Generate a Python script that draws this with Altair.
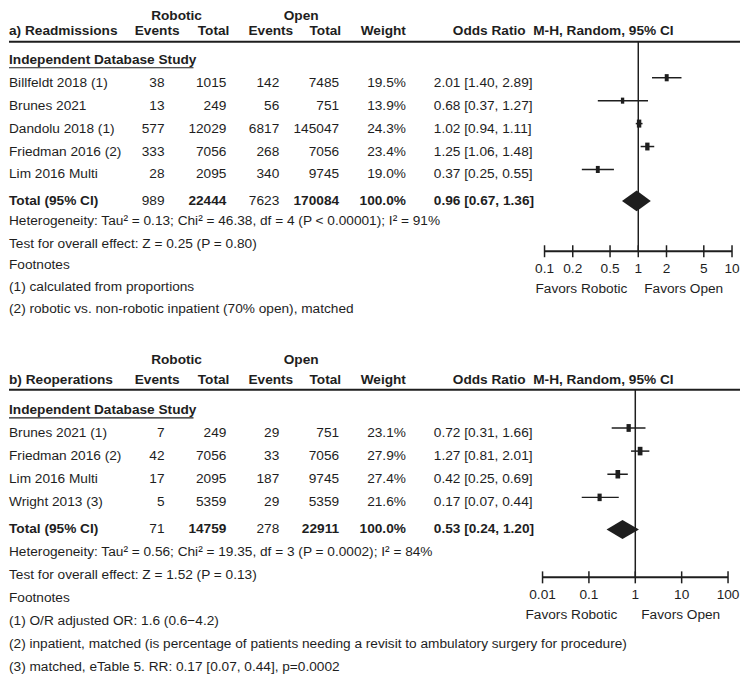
import altair as alt
import pandas as pd

FONT = "Liberation Sans, Arial, sans-serif"
FS = 13.7
INK = "#1e1e1e"
W = 733
SQUARE = "M-0.55,-1L0.55,-1L0.55,1L-0.55,1Z"

# ---------------- data: a) Readmissions ----------------
names_a = ["Billfeldt 2018 (1)", "Brunes 2021", "Dandolu 2018 (1)", "Friedman 2016 (2)", "Lim 2016 Multi"]
rob_ev_a = [38, 13, 577, 333, 28]
rob_tot_a = [1015, 249, 12029, 7056, 2095]
open_ev_a = [142, 56, 6817, 268, 340]
open_tot_a = [7485, 751, 145047, 7056, 9745]
weight_a = [19.5, 13.9, 24.3, 23.4, 19.0]
or_a = [2.01, 0.68, 1.02, 1.25, 0.37]
lo_a = [1.40, 0.37, 0.94, 1.06, 0.25]
hi_a = [2.89, 1.27, 1.11, 1.48, 0.55]
total_a = [989, 22444, 7623, 170084, 100.0, 0.96, 0.67, 1.36]
het_a = "Heterogeneity: Tau\u00b2 = 0.13; Chi\u00b2 = 46.38, df = 4 (P < 0.00001); I\u00b2 = 91%"
test_a = "Test for overall effect: Z = 0.25 (P = 0.80)"
notes_a = ["(1) calculated from proportions",
           "(2) robotic vs. non-robotic inpatient (70% open), matched"]
ticks_a = [0.1, 0.2, 0.5, 1, 2, 5, 10]
ticklab_a = ["0.1", "0.2", "0.5", "1", "2", "5", "10"]

# ---------------- data: b) Reoperations ----------------
names_b = ["Brunes 2021 (1)", "Friedman 2016 (2)", "Lim 2016 Multi", "Wright 2013 (3)"]
rob_ev_b = [7, 42, 17, 5]
rob_tot_b = [249, 7056, 2095, 5359]
open_ev_b = [29, 33, 187, 29]
open_tot_b = [751, 7056, 9745, 5359]
weight_b = [23.1, 27.9, 27.4, 21.6]
or_b = [0.72, 1.27, 0.42, 0.17]
lo_b = [0.31, 0.81, 0.25, 0.07]
hi_b = [1.66, 2.01, 0.69, 0.44]
total_b = [71, 14759, 278, 22911, 100.0, 0.53, 0.24, 1.20]
het_b = "Heterogeneity: Tau\u00b2 = 0.56; Chi\u00b2 = 19.35, df = 3 (P = 0.0002); I\u00b2 = 84%"
test_b = "Test for overall effect: Z = 1.52 (P = 0.13)"
notes_b = ["(1) O/R adjusted OR: 1.6 (0.6\u22124.2)",
           "(2) inpatient, matched (is percentage of patients needing a revisit to ambulatory surgery for procedure)",
           "(3) matched, eTable 5. RR: 0.17 [0.07, 0.44], p=0.0002"]
ticks_b = [0.01, 0.1, 1, 10, 100]
ticklab_b = ["0.01", "0.1", "1", "10", "100"]

# column anchors (pixels inside the chart)
COL = dict(re=156, rt=218, oe=271, ot=331, w=398, orl=426,
           h_rob=168, h_open=293, h_re=171, h_rt=221, h_oe=285, h_ot=333, h_or=445)


def panel(title, names, rev, rtot, oev, otot, wts, ors, los, his, tot,
          het, test, notes, ticks, ticklabs, xrange, L, H, fav_dx):
    step, row0 = L["step"], L["row0"]

    def r(px):
        return (px - row0) / step

    ysc = alt.Scale(domain=[r(0), r(H)], reverse=True, nice=False, zero=False)
    xsc = alt.Scale(type="log", domain=[ticks[0], ticks[-1]], range=xrange, nice=False)
    Y = alt.Y("row:Q", scale=ysc, axis=None)

    def T(d, field, x, align="left", bold=False):
        return alt.Chart(d).mark_text(
            align=align, baseline="middle", font=FONT, fontSize=FS,
            fontWeight="bold" if bold else "normal", color=INK
        ).encode(x=alt.value(x), y=Y, text=f"{field}:N")

    n = len(names)
    st = pd.DataFrame({
        "name": names,
        "re": [str(v) for v in rev], "rt": [str(v) for v in rtot],
        "oe": [str(v) for v in oev], "ot": [str(v) for v in otot],
        "wl": [f"{v:.1f}%" for v in wts], "w": wts,
        "orl": [f"{o:.2f} [{a:.2f}, {b:.2f}]" for o, a, b in zip(ors, los, his)],
        "est": ors, "lo": los, "hi": his,
        "row": list(range(1, n + 1)),
    })
    trow = r(L["total"])
    tt = pd.DataFrame({
        "name": ["Total (95% CI)"], "re": [str(tot[0])], "rt": [str(tot[1])],
        "oe": [str(tot[2])], "ot": [str(tot[3])], "wl": [f"{tot[4]:.1f}%"],
        "orl": [f"{tot[5]:.2f} [{tot[6]:.2f}, {tot[7]:.2f}]"], "row": [trow],
    })
    h1 = pd.DataFrame({"t1": ["Robotic"], "t2": ["Open"], "row": [r(L["hdr1"])]})
    h2 = pd.DataFrame({"title": [title], "ev": ["Events"], "tot": ["Total"],
                       "wt": ["Weight"], "orh": ["Odds Ratio\u00a0 M-H, Random, 95% CI"],
                       "row": [r(L["hdr2"])]})
    grp = pd.DataFrame({"t": ["Independent Database Study"], "row": [0]})
    lines = [het, test, "Footnotes"] + notes
    lrows = [L["het"], L["test"], L["foot"]] + [L["fn0"] + i * L["fnstep"] for i in range(len(notes))]
    lower = pd.DataFrame({"t": lines, "row": [r(p) for p in lrows]})

    layers = [
        # header
        T(h1, "t1", COL["h_rob"], "center", True),
        T(h1, "t2", COL["h_open"], "center", True),
        T(h2, "title", 0, "left", True),
        T(h2, "ev", COL["h_re"], "right", True),
        T(h2, "tot", COL["h_rt"], "right", True),
        T(h2, "ev", COL["h_oe"], "right", True),
        T(h2, "tot", COL["h_ot"], "right", True),
        T(h2, "wt", COL["w"], "right", True),
        T(h2, "orh", COL["h_or"], "left", True),
        alt.Chart(pd.DataFrame({"row": [r(L["line"])]})).mark_rule(color=INK, strokeWidth=2)
        .encode(x=alt.value(0), x2=alt.value(W), y=Y),
        # group heading with underline
        T(grp, "t", 0, "left", True),
        alt.Chart(pd.DataFrame({"row": [r(row0 + 8)]})).mark_rule(color=INK, strokeWidth=1.2)
        .encode(x=alt.value(0), x2=alt.value(L["ul"]), y=Y),
        # study rows
        T(st, "name", 0), T(st, "re", COL["re"], "right"), T(st, "rt", COL["rt"], "right"),
        T(st, "oe", COL["oe"], "right"), T(st, "ot", COL["ot"], "right"),
        T(st, "wl", COL["w"], "right"), T(st, "orl", COL["orl"], "left"),
        # total row
        T(tt, "name", 0, "left", True), T(tt, "re", COL["re"], "right"),
        T(tt, "rt", COL["rt"], "right", True), T(tt, "oe", COL["oe"], "right"),
        T(tt, "ot", COL["ot"], "right", True), T(tt, "wl", COL["w"], "right", True),
        T(tt, "orl", COL["orl"], "left", True),
        # lower text
        T(lower, "t", 0),
    ]

    X = lambda f: alt.X(f, scale=xsc, axis=None)
    # line of no effect
    layers.append(
        alt.Chart(pd.DataFrame({"x": [1], "ya": [r(L["line"])], "yb": [r(L["axis"])]}))
        .mark_rule(color=INK, strokeWidth=1.5)
        .encode(x=X("x:Q"), y=alt.Y("ya:Q", scale=ysc, axis=None), y2="yb:Q"))
    # confidence intervals
    layers.append(alt.Chart(st).mark_rule(color=INK, strokeWidth=1.5, yOffset=-5)
                  .encode(x=X("lo:Q"), x2="hi:Q", y=Y))
    layers.append(alt.Chart(st).mark_point(shape=SQUARE, filled=True, color=INK, opacity=1, yOffset=-5)
                  .encode(x=X("est:Q"), y=Y,
                          size=alt.Size("w:Q", scale=alt.Scale(domain=[0, 100], range=[0, 265]), legend=None)))
    # diamond
    hh = L["dh"] / step
    dm = pd.DataFrame({"x": [tot[6], tot[5], tot[7]],
                       "ya": [trow, trow - hh, trow], "yb": [trow, trow + hh, trow]})
    layers.append(alt.Chart(dm).mark_area(color=INK, orient="vertical", opacity=1)
                  .encode(x=X("x:Q"), y=alt.Y("ya:Q", scale=ysc, axis=None), y2="yb:Q"))
    # axis
    layers.append(alt.Chart(pd.DataFrame({"lo": [ticks[0]], "hi": [ticks[-1]], "row": [r(L["axis"])]}))
                  .mark_rule(color=INK, strokeWidth=2).encode(x=X("lo:Q"), x2="hi:Q", y=Y))
    tk = pd.DataFrame({"v": ticks, "lab": ticklabs,
                       "ya": [r(L["axis"] - 6)] * len(ticks), "yb": [r(L["axis"] + 6)] * len(ticks),
                       "row": [r(L["ticklab"])] * len(ticks)})
    layers.append(alt.Chart(tk).mark_rule(color=INK, strokeWidth=1.5)
                  .encode(x=X("v:Q"), y=alt.Y("ya:Q", scale=ysc, axis=None), y2="yb:Q"))
    layers.append(alt.Chart(tk).mark_text(align="center", baseline="middle", font=FONT, fontSize=FS,
                                          color=INK, clip=True)
                  .encode(x=X("v:Q"), y=Y, text="lab:N"))
    fv = pd.DataFrame({"x": [1], "row": [r(L["favors"])], "a": ["Favors Robotic"], "b": ["Favors Open"]})
    layers.append(alt.Chart(fv).mark_text(align="right", baseline="middle", font=FONT, fontSize=FS,
                                          color=INK, dx=fav_dx[0])
                  .encode(x=X("x:Q"), y=Y, text="a:N"))
    layers.append(alt.Chart(fv).mark_text(align="left", baseline="middle", font=FONT, fontSize=FS,
                                          color=INK, dx=fav_dx[1])
                  .encode(x=X("x:Q"), y=Y, text="b:N"))

    return alt.layer(*layers).properties(width=W, height=H)


LA = dict(hdr1=7, hdr2=22, line=33, row0=51, step=23, total=192.5, het=213, test=236,
          foot=257, fn0=279, fnstep=22, axis=243, ticklab=261, favors=281, dh=10.5, ul=185)
LB = dict(hdr1=19, hdr2=39, line=49, row0=69, step=23.2, total=189, het=212, test=235,
          foot=258, fn0=281, fnstep=22.7, axis=237, ticklab=255, favors=275, dh=9.5, ul=185)

pa = panel("a) Readmissions", names_a, rob_ev_a, rob_tot_a, open_ev_a, open_tot_a, weight_a,
           or_a, lo_a, hi_a, total_a, het_a, test_a, notes_a, ticks_a, ticklab_a,
           [537, 725], LA, 333, (-11, 6))
pb = panel("b) Reoperations", names_b, rob_ev_b, rob_tot_b, open_ev_b, open_tot_b, weight_b,
           or_b, lo_b, hi_b, total_b, het_b, test_b, notes_b, ticks_b, ticklab_b,
           [535, 721], LB, 333, (-18, 6))

chart = (alt.vconcat(pa, pb, spacing=0)
         .resolve_scale(x="independent", y="independent", size="independent")
         .properties(padding=0, background="white")
         .configure_view(strokeWidth=0))

chart.save("out.html", embed_options={"renderer": "svg", "actions": False})
